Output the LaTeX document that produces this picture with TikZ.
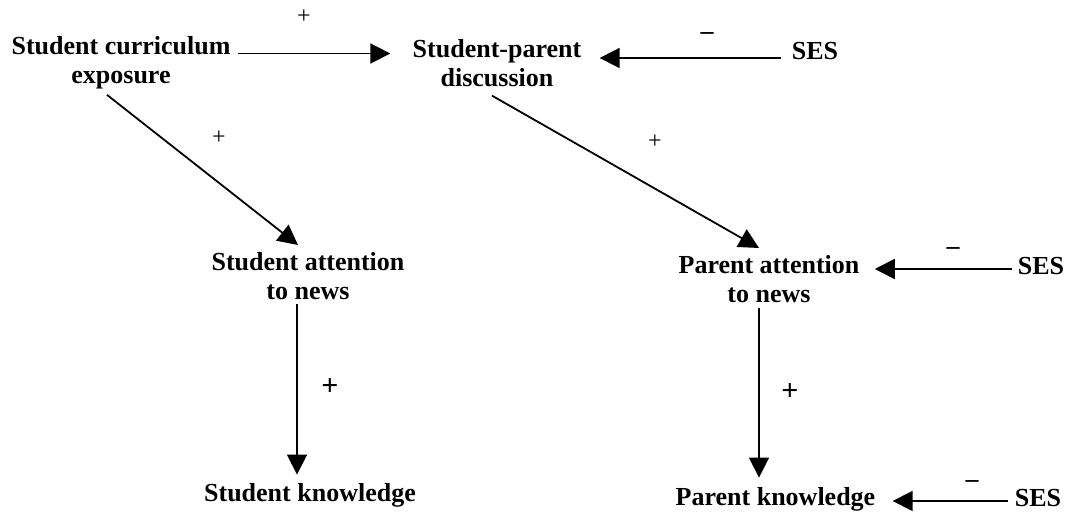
\documentclass[tikz,border=0pt]{standalone}
\usepackage{fontspec}
\setmainfont{Liberation Serif}
\usetikzlibrary{arrows.meta}

\tikzset{
    var/.style={inner sep=0pt, align=center, font=\fontsize{13}{14.5}\selectfont\bfseries},
    link/.style={line width=0.9pt, -{Triangle[length=10pt,width=10pt]}},
    plus/.style={inner sep=0pt, font=\fontsize{12}{12}\selectfont},
    bigplus/.style={inner sep=0pt, font=\fontsize{15}{15}\selectfont\bfseries},
    minus/.style={inner sep=0pt, font=\fontsize{13}{13}\selectfont\bfseries}
}

\begin{document}
\begin{tikzpicture}[x=0.5pt, y=-0.5pt]

    % 1. Page frame
    \useasboundingbox (0,0) rectangle (1071,517);

    % 2. Student side
    \node [var, anchor=north] (curr) at (121,36.5) {Student curriculum\\exposure};
    \node [var, anchor=north] (satt) at (308,252.5) {Student attention\\to news};
    \node [var, anchor=base] (sknow) at (310,502) {Student knowledge};

    % 3. Parent side
    \node [var, anchor=north] (disc) at (497,39.5) {Student-parent\\discussion};
    \node [var, anchor=north] (patt) at (769,255.5) {Parent attention\\to news};
    \node [var, anchor=base] (pknow) at (775.5,506) {Parent knowledge};

    % 4. SES on the right
    \node [var, anchor=base] (ses1) at (815,60) {SES};
    \node [var, anchor=base] (ses2) at (1041,275) {SES};
    \node [var, anchor=base] (ses3) at (1038,507) {SES};

    % 5. Positive paths
    \draw [link] ([shift={(7,17)}]curr.north east) -- ([shift={(-22,14)}]disc.north west);
    \draw [link] ([shift={(-14,5)}]curr.south) -- ([shift={(-10,-7.5)}]satt.north);
    \draw [link] ([shift={(-5,8)}]disc.south) -- ([shift={(-10,-7.5)}]patt.north);
    \draw [link] ([shift={(-11,3)}]satt.south) -- ([shift={(-13,-9)}]sknow.north);
    \draw [link] ([shift={(-10,4)}]patt.south) -- ([shift={(-16.5,-10)}]pknow.north);

    % 6. Negative paths from SES
    \draw [link] ([shift={(-10,-2)}]ses1.base west) -- ([shift={(18,18.5)}]disc.north east);
    \draw [link] ([shift={(-5,-6)}]ses2.base west) -- ([shift={(15,13.5)}]patt.north east);
    \draw [link] ([shift={(-6,-6)}]ses3.base west) -- ([shift={(17,-5)}]pknow.base east);

    % 7. Signs on the paths
    \node [plus] (s1) at (304,17) {+};
    \node [plus] (s2) at (219,138) {+};
    \node [plus] (s3) at (655,142) {+};
    \node [bigplus] (s4) at (330,387) {+};
    \node [bigplus] (s5) at (790,392) {+};
    \node [minus] (n1) at (707,36) {\textendash};
    \node [minus] (n2) at (953,251) {\textendash};
    \node [minus] (n3) at (972,484) {\textendash};

\end{tikzpicture}
\end{document}
